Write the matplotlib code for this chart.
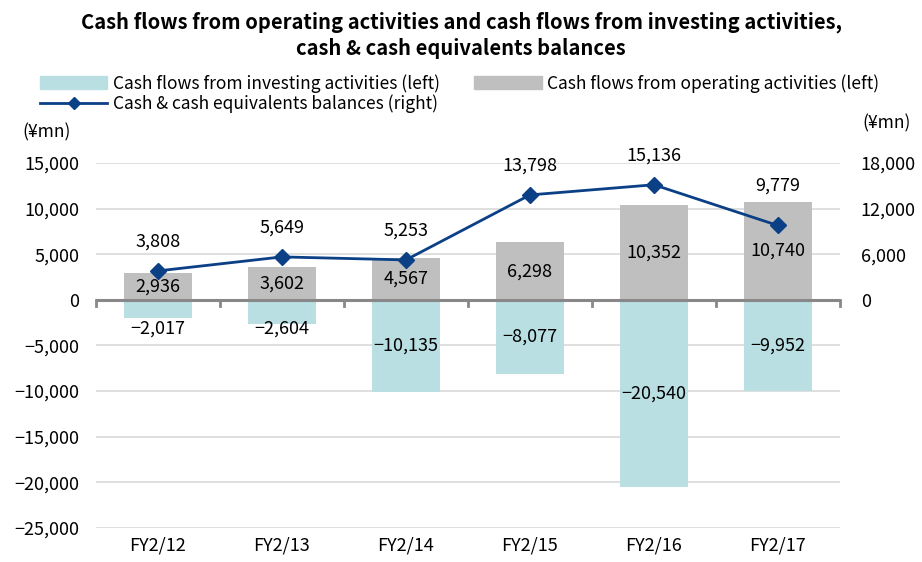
import matplotlib.pyplot as plt
import numpy as np
from matplotlib.lines import Line2D
from matplotlib.patches import Patch

plt.rcParams['font.family'] = ['Noto Sans CJK JP', 'DejaVu Sans']

years = ['FY2/12', 'FY2/13', 'FY2/14', 'FY2/15', 'FY2/16', 'FY2/17']
operating = [2936, 3602, 4567, 6298, 10352, 10740]
investing = [-2017, -2604, -10135, -8077, -20540, -9952]
cash_bal = [3808, 5649, 5253, 13798, 15136, 9779]

c_inv = '#B9DFE2'
c_op = '#BFBFBF'
c_line = '#0B3F86'

fig = plt.figure(figsize=(9.22, 5.62), dpi=100)
ax = fig.add_axes([0.104, 0.0605, 0.807, 0.6495])
ax2 = ax.twinx()

x = np.arange(len(years))
w = 0.55

ax.bar(x, investing, w, color=c_inv, zorder=2)
ax.bar(x, operating, w, color=c_op, zorder=2)

ax.set_xlim(-0.5, len(years) - 0.5)
ax.set_ylim(-25000, 15000)
ax.set_yticks(range(-25000, 15001, 5000))
ax.set_yticklabels([f'{v:,}'.replace('-', '\u2212') for v in range(-25000, 15001, 5000)])
ax.grid(axis='y', color='#D9D9D9', lw=1.2, zorder=0)
ax.set_axisbelow(True)
ax.axhline(0, color='#888888', lw=2.2, zorder=3)

for s in ['top', 'left', 'right', 'bottom']:
    ax.spines[s].set_visible(False)
    ax2.spines[s].set_visible(False)

ax.tick_params(axis='y', length=0, pad=12, labelsize=13)
ax.set_xticks(x)
ax.set_xticklabels(years, fontsize=13)
ax.tick_params(axis='x', length=0, pad=6)
# boundary tick marks on the zero line
for b in np.arange(-0.5, len(years), 1.0):
    ax.plot([b, b], [0, -700], color='#888888', lw=2, zorder=3, clip_on=False)

ax2.plot(x, cash_bal, color=c_line, lw=2, marker='D', markersize=8, zorder=5)
ax2.set_ylim(-30000, 18000)
ax2.set_yticks(range(0, 18001, 6000))
ax2.set_yticklabels([f'{v:,}' for v in range(0, 18001, 6000)])
ax2.tick_params(axis='y', length=0, pad=15, labelsize=13)

# data labels
line_off = [21, 21, 21, 21, 21, 29]
for i in range(len(years)):
    ax.text(x[i], operating[i] / 2, f'{operating[i]:,}', ha='center', va='center', fontsize=13, zorder=6)
    yi = min(investing[i] / 2, -3200)
    ax.text(x[i], yi, f'{investing[i]:,}'.replace('-', '\u2212'), ha='center', va='center', fontsize=13, zorder=6)
    ax2.annotate(f'{cash_bal[i]:,}', (x[i], cash_bal[i]), xytext=(0, line_off[i]), textcoords='offset points',
                 ha='center', va='center', fontsize=13, annotation_clip=False)

fig.text(0.5, 0.937, 'Cash flows from operating activities and cash flows from investing activities,\ncash & cash equivalents balances',
         ha='center', va='center', fontsize=14.5, fontweight='bold', linespacing=1.3)

handles = [Patch(color=c_inv, label='Cash flows from investing activities (left)'),
           Line2D([0], [0], color=c_line, lw=2, marker='D', markersize=6,
                  label='Cash & cash equivalents balances (right)'),
           Patch(color=c_op, label='Cash flows from operating activities (left)')]
fig.legend(handles=handles, loc='upper left', bbox_to_anchor=(0.043, 0.868), ncol=2, frameon=False,
           fontsize=12.5, handlelength=3.9, handleheight=0.8, columnspacing=2.0, labelspacing=0.1,
           handletextpad=0.3, borderpad=0, borderaxespad=0)

fig.text(0.024, 0.765, '(¥mn)', fontsize=12.5, va='center', ha='left')
fig.text(0.935, 0.78, '(¥mn)', fontsize=12.5, va='center', ha='left')

fig.savefig('out.png', dpi=100)
